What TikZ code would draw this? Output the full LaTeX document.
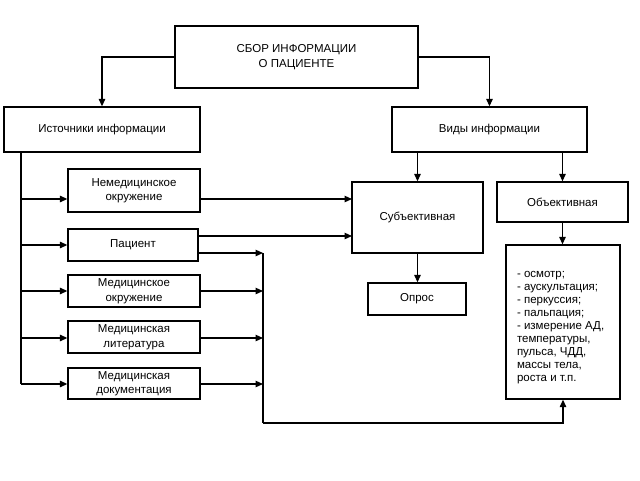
\documentclass[tikz,border=0pt]{standalone}
\usepackage{fontspec}
\setmainfont{Liberation Sans}
\usetikzlibrary{arrows.meta}
\begin{document}
\begin{tikzpicture}[x=1pt,y=-1pt,
  box/.style={draw,line width=1.3pt,inner sep=0pt,align=center,font=\fontsize{11.5}{14.5}\selectfont},
  arr/.style={line width=1.2pt,-{Triangle[length=7.5pt,width=6.5pt]}},
  ln/.style={line width=1.2pt}]
\useasboundingbox (0,0) rectangle (640,480);
\node[box,minimum width=243pt,minimum height=62pt] (top) at (296.5,57) {СБОР ИНФОРМАЦИИ\\О ПАЦИЕНТЕ};
\node[box,minimum width=196pt,minimum height=45pt] (ist) at (102,129.5) {Источники информации};
\node[box,minimum width=195pt,minimum height=45pt] (vid) at (489.5,129.5) {Виды информации};
\node[box,minimum width=132pt,minimum height=43pt] (nem) at (134,190.5) {Немедицинское\\окружение};
\node[box,minimum width=130pt,minimum height=32pt] (pac) at (133,245) {Пациент};
\node[box,minimum width=132pt,minimum height=32pt] (medok) at (134,291) {Медицинское\\окружение};
\node[box,minimum width=132pt,minimum height=32pt] (medlit) at (134,337) {Медицинская\\литература};
\node[box,minimum width=132pt,minimum height=31pt] (meddoc) at (134,383.5) {Медицинская\\документация};
\node[box,minimum width=131pt,minimum height=71pt] (sub) at (417.5,217.5) {Субъективная};
\node[box,minimum width=131pt,minimum height=40pt] (obj) at (562.5,202) {Объективная};
\node[box,minimum width=98pt,minimum height=32pt] (opros) at (417,299) {Опрос};
\node[box,minimum width=114pt,minimum height=154pt,align=left] (list) at (563,322)
  {\parbox{92pt}{\fontsize{11.5}{13}\selectfont\raggedright\vspace*{12pt}- осмотр;\\- аускультация;\\- перкуссия;\\- пальпация;\\- измерение АД,\\температуры,\\пульса, ЧДД,\\массы тела,\\роста и т.п.}};
% top connectors
\draw[arr] (top.west) -| (ist.north);
\draw[arr] (top.east) -| (vid.north);
% left trunk
\coordinate (tA) at (21,152);
\coordinate (b1) at (21,199);
\coordinate (b2) at (21,245);
\coordinate (b3) at (21,291);
\coordinate (b4) at (21,338);
\coordinate (b5) at (21,384);
\draw[ln] (tA) -- (b5);
\draw[arr] (b1) -- (b1 -| nem.west);
\draw[arr] (b2) -- (b2 -| pac.west);
\draw[arr] (b3) -- (b3 -| medok.west);
\draw[arr] (b4) -- (b4 -| medlit.west);
\draw[arr] (b5) -- (b5 -| meddoc.west);
% to subjective
\coordinate (s1) at (352,199);
\coordinate (s2) at (352,236);
\draw[arr] (s1 -| nem.east) -- (s1);
\draw[arr] (s2 -| pac.east) -- (s2);
% right bus
\coordinate (r1) at (263,253);
\coordinate (r2) at (263,291);
\coordinate (r3) at (263,338);
\coordinate (r4) at (263,384);
\coordinate (r5) at (263,423);
\draw[arr] (r1 -| pac.east) -- (r1);
\draw[arr] (r2 -| medok.east) -- (r2);
\draw[arr] (r3 -| medlit.east) -- (r3);
\draw[arr] (r4 -| meddoc.east) -- (r4);
\draw[ln] (r1) -- (r5);
\draw[arr] (r5) -| (list.south);
% kinds
\draw[arr] (sub.north |- vid.south) -- (sub.north);
\draw[arr] (obj.north |- vid.south) -- (obj.north);
\draw[arr] (obj.south) -- (obj.south |- list.north);
\draw[arr] (sub.south) -- (sub.south |- opros.north);
\end{tikzpicture}
\end{document}
